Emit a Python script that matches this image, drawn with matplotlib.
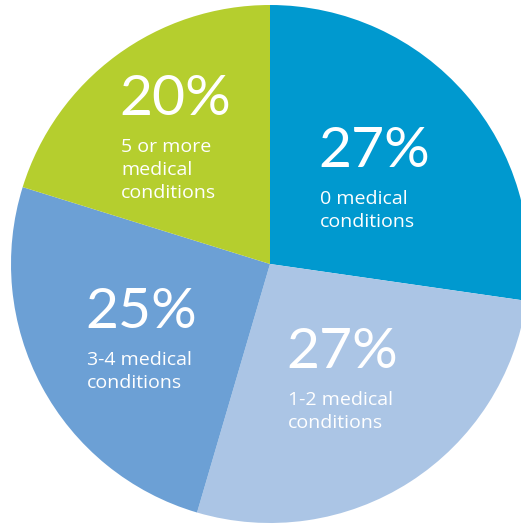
import matplotlib.pyplot as plt

# share of people by number of medical conditions
pcts = [27, 27, 25, 20]
labels = ["0 medical\nconditions", "1-2 medical\nconditions",
          "3-4 medical\nconditions", "5 or more\nmedical\nconditions"]
colors = ["#0099CF", "#ABC5E5", "#6CA0D5", "#B5CE2E"]

W, H = 521, 525
fig = plt.figure(figsize=(W / 100, H / 100), dpi=100)
ax = fig.add_axes([0, 0, 1, 1])

# pie center / radius in pixels (y measured from top)
cx, cy, r = 270, 264, 259
ax.pie(pcts, colors=colors, startangle=90, counterclock=False,
       center=(cx, H - cy), radius=r, frame=True,
       wedgeprops=dict(linewidth=0))
ax.set_xlim(0, W)
ax.set_ylim(0, H)
ax.set_aspect("equal")
ax.axis("off")

# label anchors: left x, baseline of big number (pixels from top)
anchors = [(320, 167), (288, 368), (87, 328), (121, 115)]
for (x, y), p, lab in zip(anchors, pcts, labels):
    ax.text(x - 2, H - y, f"{p}%", color="white", fontsize=41,
            family="Lato", va="baseline", ha="left")
    for i, line in enumerate(lab.split("\n")):
        ax.text(x, H - (y + 37 + 23 * i), line, color="white", fontsize=14,
                family="Open Sans", va="baseline", ha="left")

fig.savefig("out.png", dpi=100)
